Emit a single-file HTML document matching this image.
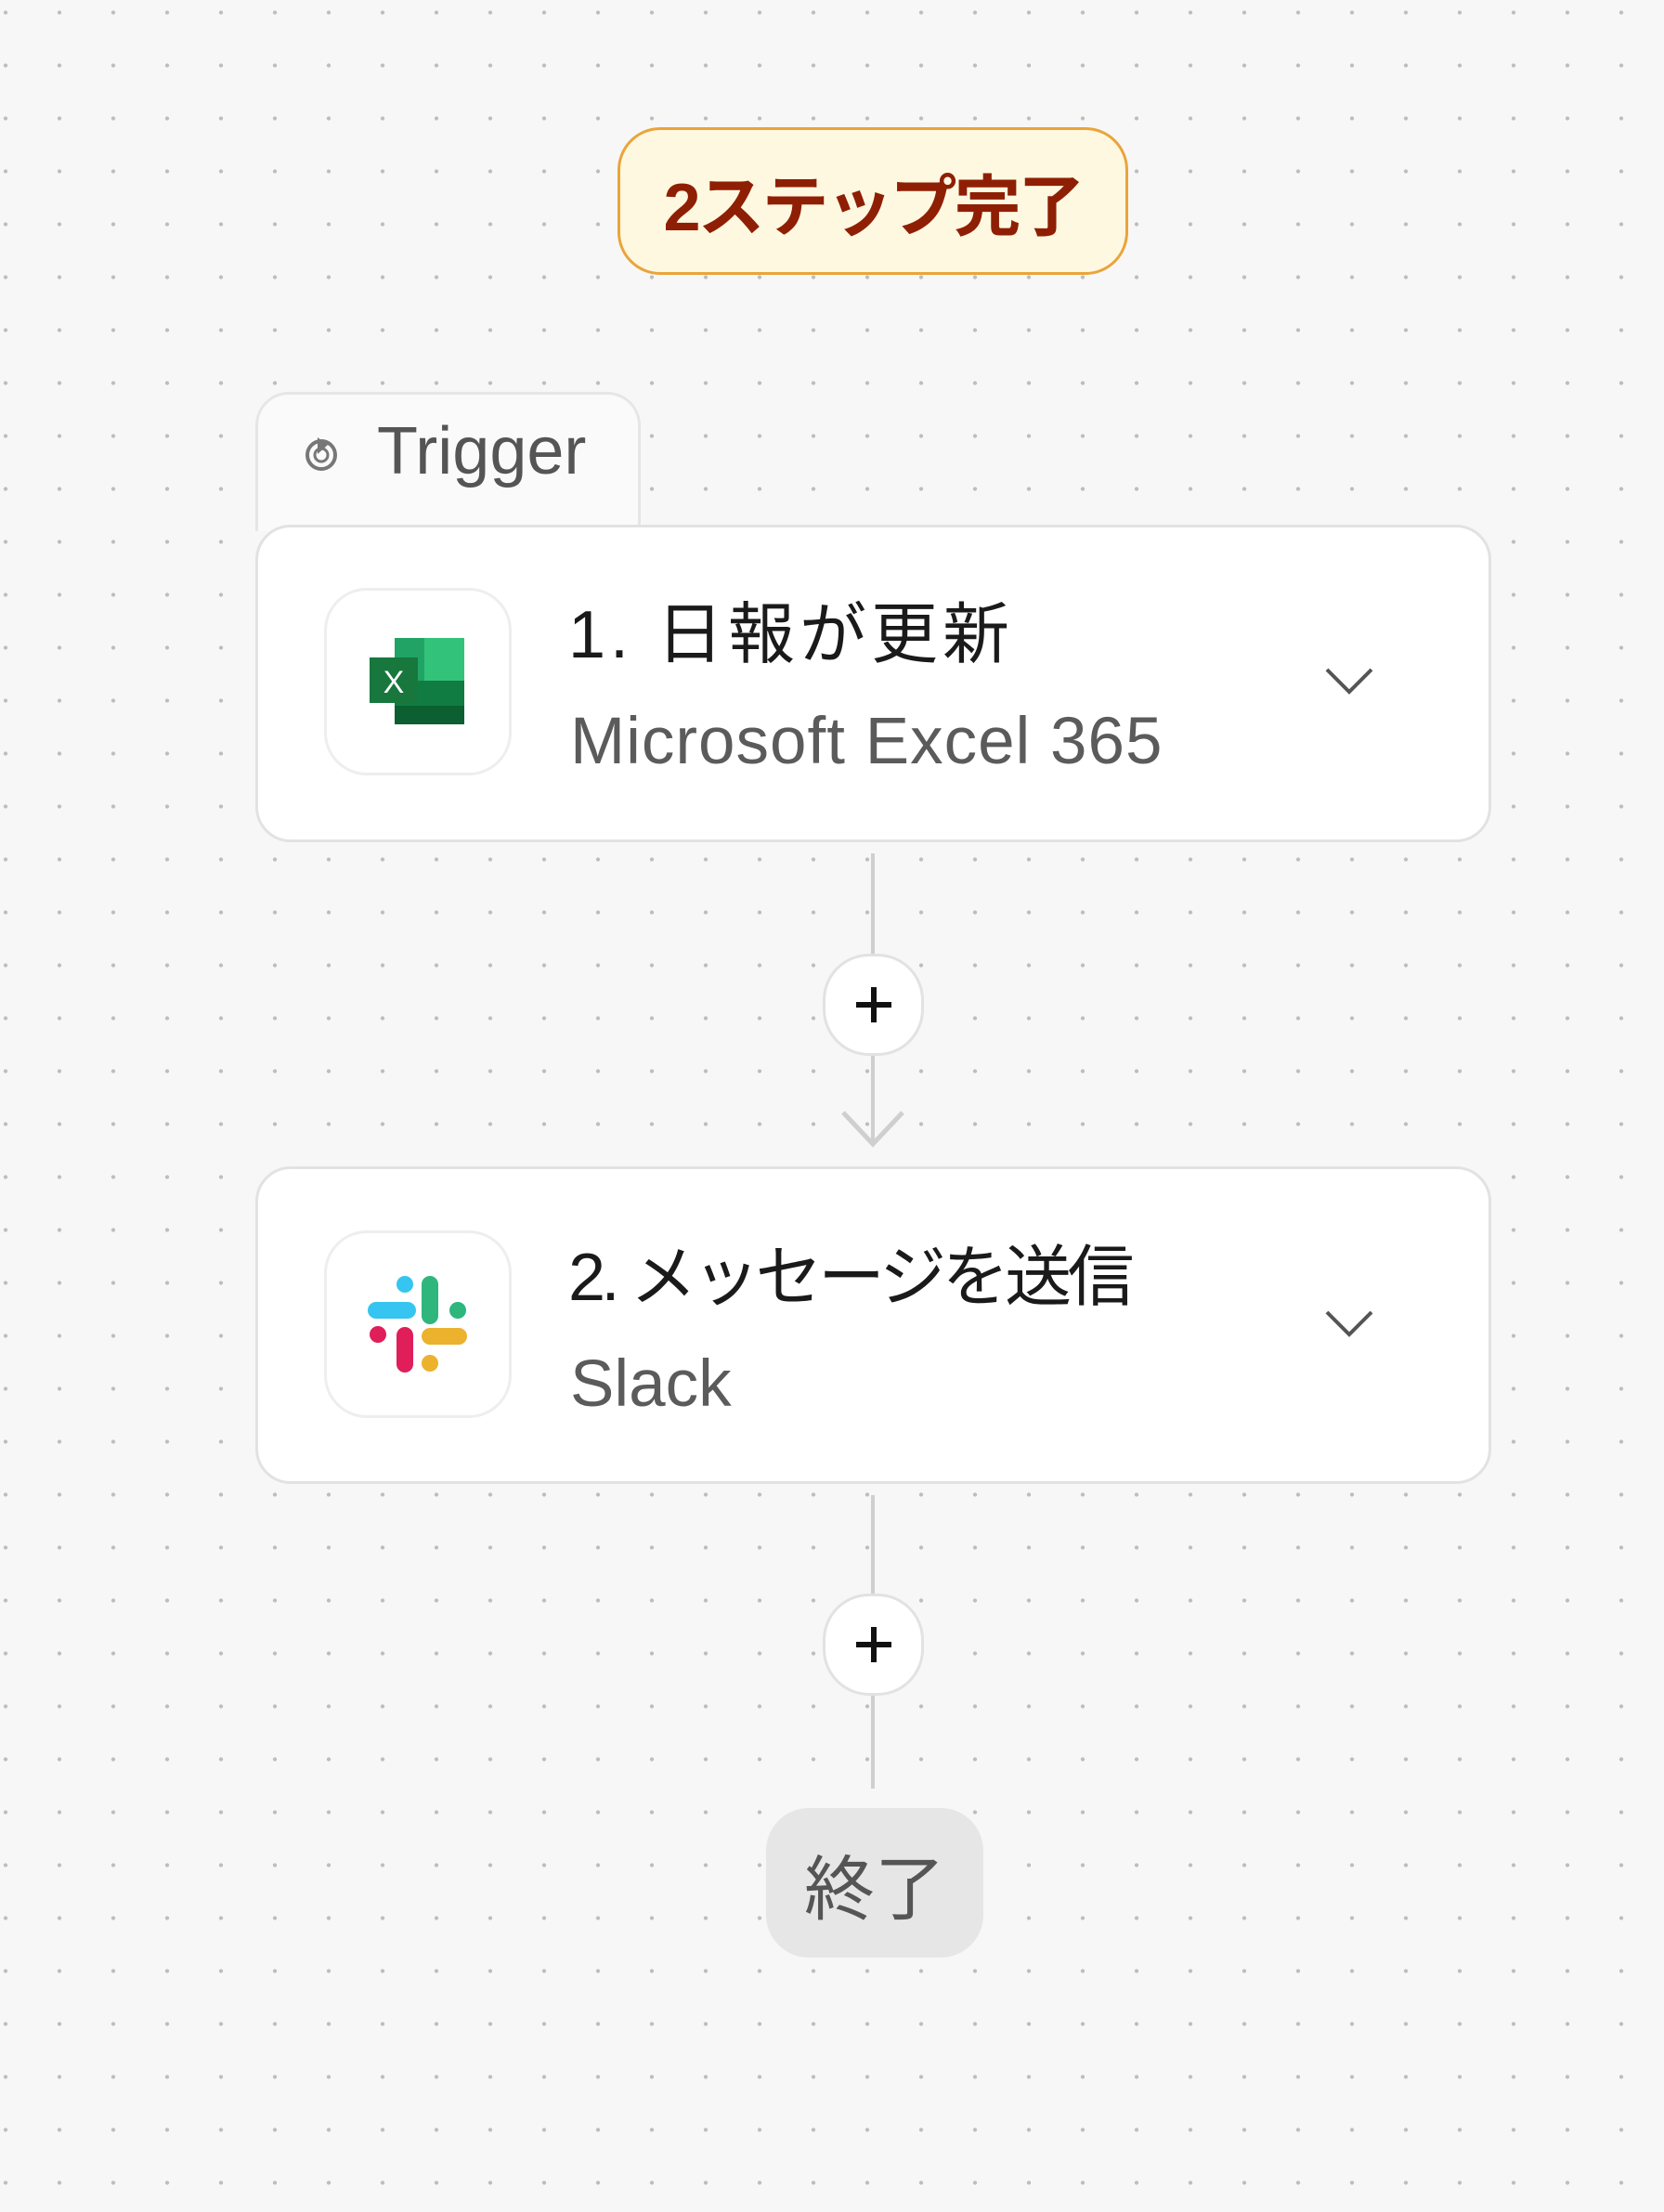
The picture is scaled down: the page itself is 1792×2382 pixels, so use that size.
<!DOCTYPE html>
<html><head><meta charset="utf-8"><style>
html,body{margin:0;padding:0}
body{width:1792px;height:2382px;position:relative;overflow:hidden;background-color:#f7f7f7;
background-image:radial-gradient(circle,#bdbdbd 1.8px,transparent 2.4px);background-size:58px 57px;background-position:-23px -15px;
font-family:"Liberation Sans","Noto Sans CJK JP",sans-serif}
.abs{position:absolute;box-sizing:border-box}
.badge{left:665px;top:137px;width:550px;height:159px;border:3px solid #eaa43a;background:#fff8e0;border-radius:46px;color:#8e1f05;font-size:72px;font-weight:bold;display:flex;align-items:center;justify-content:center;letter-spacing:-3px}
.tab{left:275px;top:422px;width:415px;height:150px;background:#fafafa;border:3px solid #e6e6e6;border-bottom:none;border-radius:36px 36px 0 0}
.card{left:275px;width:1331px;height:342px;background:#fff;border:3px solid #e2e2e2;border-radius:38px}
.icon{left:349px;width:202px;height:202px;border:3px solid #eeeeee;border-radius:46px;background:#fff}
.title{left:612px;font-size:72px;color:#1a1a1a;white-space:nowrap;line-height:1}
.sub{left:614px;font-size:71px;color:#5b5b5b;white-space:nowrap;line-height:1}
.plus{left:886px;width:109px;height:110px;background:#fff;border:3px solid #e2e2e2;border-radius:50px;display:flex;align-items:center;justify-content:center}
.line{left:938px;width:4px;background:#cfcfcf}
</style></head><body>
<div class="abs badge">2ステップ完了</div>

<div class="abs tab"></div>
<div class="abs" style="left:325px;top:467px;width:42px;height:42px">
<svg width="42" height="42" viewBox="0 0 42 42"><circle cx="21" cy="23" r="15" fill="none" stroke="#777" stroke-width="4"/><circle cx="21" cy="23" r="7" fill="none" stroke="#777" stroke-width="3"/><path d="M17 4 L17 22 L28 12 Z" fill="#777"/></svg></div>
<div class="abs" style="left:406px;top:450px;font-size:72px;color:#555;line-height:1">Trigger</div>

<div class="abs card" style="top:565px"></div>
<div class="abs icon" style="top:633px"></div>
<svg class="abs" style="left:395px;top:685px" width="110" height="100" viewBox="0 0 110 100">
<rect x="30" y="2" width="75" height="93" fill="#1b8a4a"/>
<rect x="62" y="2" width="43" height="46" fill="#33c27a"/>
<rect x="30" y="2" width="32" height="46" fill="#21a366"/>
<rect x="30" y="48" width="75" height="47" fill="#107c41"/>
<rect x="30" y="75" width="75" height="20" fill="#0b5f31"/>
<rect x="3" y="23" width="52" height="49" fill="#17773d"/>
<text x="29" y="61" font-size="34" font-family="Liberation Sans" fill="#fff" text-anchor="middle">X</text>
</svg>
<div class="abs title" style="top:648px;letter-spacing:5px">1. 日報が更新</div>
<div class="abs sub" style="top:763px;letter-spacing:1px">Microsoft Excel 365</div>
<svg class="abs" style="left:1425px;top:715px" width="56" height="36"><path d="M4 6 L28 30 L52 6" fill="none" stroke="#555" stroke-width="4"/></svg>

<div class="abs line" style="top:919px;height:110px"></div>
<div class="abs plus" style="top:1027px"><svg width="50" height="50"><path d="M25 6V44M6 25H44" stroke="#111" stroke-width="6"/></svg></div>
<div class="abs line" style="top:1137px;height:95px"></div>
<svg class="abs" style="left:900px;top:1190px" width="80" height="50"><path d="M8 8 L40 42 L72 8" fill="none" stroke="#cfcfcf" stroke-width="5"/></svg>

<div class="abs card" style="top:1256px"></div>
<div class="abs icon" style="top:1325px"></div>
<svg class="abs" style="left:395px;top:1373px" width="110" height="108" viewBox="0 0 110 108">
<g stroke-linecap="round" stroke-width="18" fill="none">
<path d="M10 38 H44" stroke="#36c5f0"/>
<path d="M68 10 V44" stroke="#2eb67d"/>
<path d="M41 65 V96" stroke="#e01e5a"/>
<path d="M68 66 H99" stroke="#ecb22e"/>
</g>
<circle cx="41" cy="10" r="9" fill="#36c5f0"/>
<circle cx="98" cy="38" r="9" fill="#2eb67d"/>
<circle cx="12" cy="64" r="9" fill="#e01e5a"/>
<circle cx="68" cy="95" r="9" fill="#ecb22e"/>
</svg>
<div class="abs title" style="top:1340px;letter-spacing:-4.5px">2. メッセージを送信</div>
<div class="abs sub" style="top:1455px">Slack</div>
<svg class="abs" style="left:1425px;top:1407px" width="56" height="36"><path d="M4 6 L28 30 L52 6" fill="none" stroke="#555" stroke-width="4"/></svg>

<div class="abs line" style="top:1610px;height:108px"></div>
<div class="abs plus" style="top:1716px"><svg width="50" height="50"><path d="M25 6V44M6 25H44" stroke="#111" stroke-width="6"/></svg></div>
<div class="abs line" style="top:1826px;height:100px"></div>

<div class="abs" style="left:825px;top:1947px;width:234px;height:161px;background:#e6e6e6;border-radius:46px;display:flex;align-items:center;justify-content:center;font-size:76px;color:#555">終了</div>
</body></html>
